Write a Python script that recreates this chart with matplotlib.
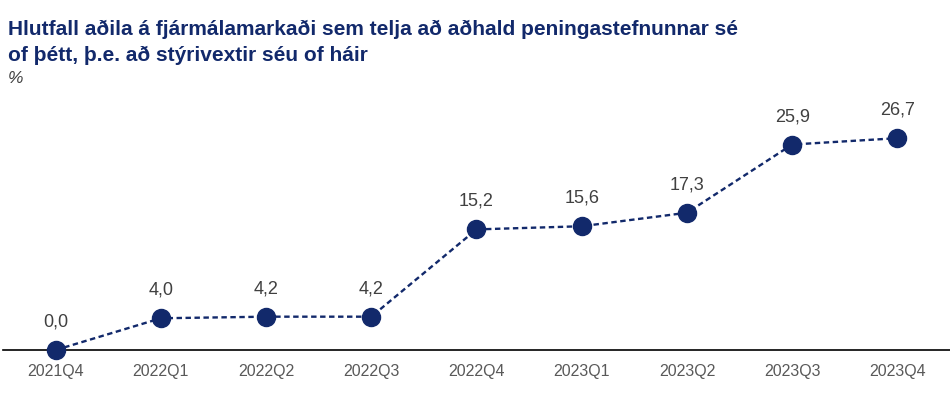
import matplotlib.pyplot as plt

plt.rcParams['font.family'] = ['Liberation Sans', 'DejaVu Sans']

quarters = ['2021Q4', '2022Q1', '2022Q2', '2022Q3', '2022Q4',
            '2023Q1', '2023Q2', '2023Q3', '2023Q4']
values = [0.0, 4.0, 4.2, 4.2, 15.2, 15.6, 17.3, 25.9, 26.7]

navy = '#12296b'

fig = plt.figure(figsize=(9.5, 3.93), dpi=100)
ax = fig.add_axes([3 / 950, 1 - 350 / 393, 947 / 950, 238 / 393])

x = range(len(quarters))
ax.plot(x, values, color=navy, linestyle=(0, (2.3, 1.5)), linewidth=1.7,
        marker='o', markersize=13, markerfacecolor=navy,
        markeredgecolor=navy, clip_on=False, zorder=3)

for i, v in zip(x, values):
    ax.annotate(f"{v:.1f}".replace('.', ','), (i, v), xytext=(0, 14),
                textcoords='offset points', ha='center', va='bottom',
                fontsize=13, color='#404040')

ax.set_xlim(-0.5, 8.5)
ax.set_ylim(0, 30)
ax.set_xticks(list(x))
ax.set_xticklabels(quarters, fontsize=11.5, color='#595959')
ax.tick_params(axis='x', length=0, pad=10)
ax.set_yticks([])
for s in ['top', 'right', 'left']:
    ax.spines[s].set_visible(False)
ax.spines['bottom'].set_color('black')
ax.spines['bottom'].set_linewidth(1.2)

fig.text(8 / 950, 1 - 35 / 393,
         'Hlutfall aðila á fjármálamarkaði sem telja að aðhald peningastefnunnar sé',
         fontsize=15, fontweight='bold', color=navy, va='baseline')
fig.text(8 / 950, 1 - 61 / 393,
         'of þétt, þ.e. að stýrivextir séu of háir',
         fontsize=15, fontweight='bold', color=navy, va='baseline')
fig.text(8 / 950, 1 - 83 / 393, '%', fontsize=12.5, color='#404040',
         style='italic', va='baseline')

fig.savefig('out.png', dpi=100)
